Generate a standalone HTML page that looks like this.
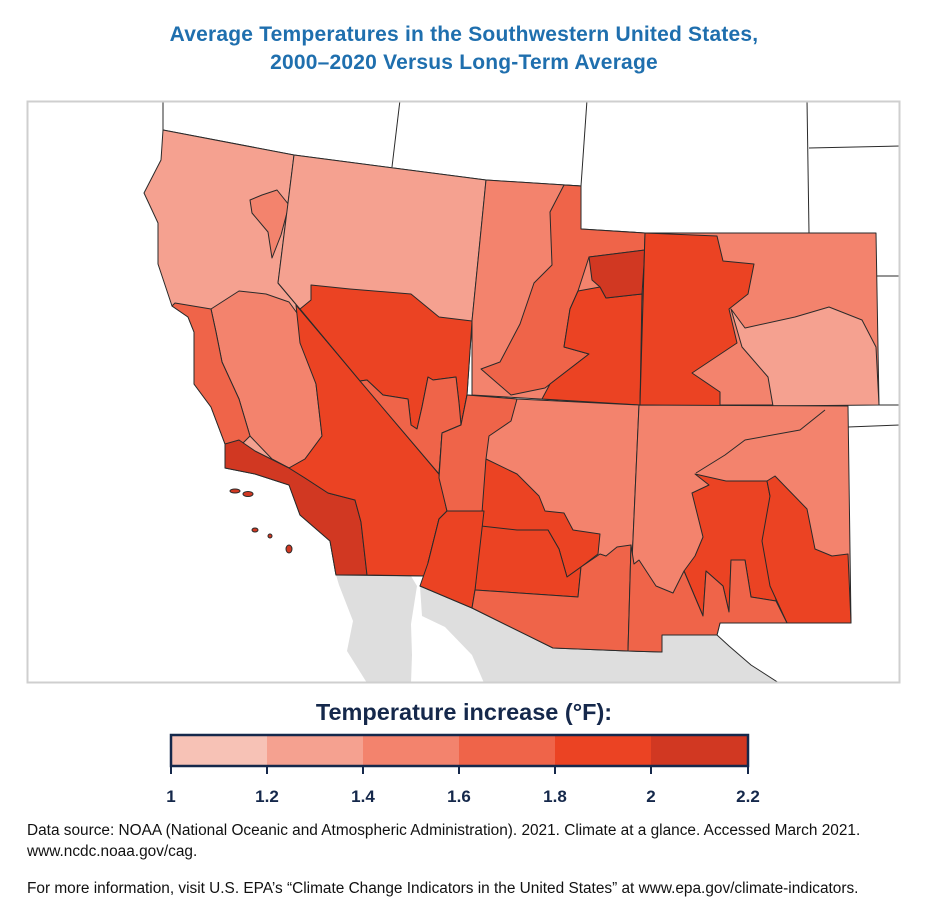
<!DOCTYPE html>
<html><head><meta charset="utf-8"><style>
body{margin:0;background:#fff;width:928px;height:921px;overflow:hidden;font-family:"Liberation Sans",sans-serif}
.t{position:absolute;left:0;width:928px;text-align:center;color:#1f6fae;font-weight:bold;font-size:21px;letter-spacing:0.2px}
.f{position:absolute;left:27px;font-size:15.4px;color:#111}
</style></head><body>
<div class="t" style="top:23px">Average Temperatures in the Southwestern United States,</div>
<div class="t" style="top:51px">2000–2020 Versus Long-Term Average</div>
<svg width="928" height="921" style="position:absolute;left:0;top:0">
<defs><clipPath id="c"><rect x="27" y="101" width="873" height="582"/></clipPath></defs>
<g clip-path="url(#c)" stroke="#2a2a2a" stroke-width="1" stroke-linejoin="round">
<polygon fill="#dedede" stroke="none" points="336,575 411,576 417,586 411,624 412,655 411,683 367,683 347,651 353,621 339,585"/>
<polygon fill="#dedede" stroke="none" points="420,586 472,608 553,648 628,651 662,652 662,635 717,635 729,646 751,665 779,683 484,683 472,655 445,627 422,616"/>
<polyline fill="none" points="717,635 729,646 751,665 779,683"/>
<polyline fill="none" points="163,100 163,130 294,155 486,180 581,186"/>
<line x1="400" y1="100" x2="392" y2="167"/>
<line x1="587" y1="100" x2="581" y2="186"/>
<line x1="807" y1="100" x2="809" y2="233"/>
<line x1="809" y1="148" x2="900" y2="146"/>
<line x1="876" y1="276" x2="900" y2="276"/>
<line x1="879" y1="405" x2="900" y2="405"/>
<line x1="848" y1="427" x2="900" y2="425"/>
<polygon fill="#f5a190" points="163,130 294,155 278,283 439,474 447,511 439,519 428,563 428,576 336,575 330,541 300,515 289,485 255,474 225,468 225,444 211,407 194,384 194,362 194,332 188,317 172,306 158,264 158,223 144,193 161,160"/>
<polygon fill="#f3836d" points="277,190 289,205 281,235 272,258 268,232 252,213 250,200 262,195"/>
<polygon fill="#f3836d" points="211,309 239,291 266,294 289,302 305,324 311,362 316,384 322,436 305,459 289,468 272,459 250,436 239,399 222,362 216,332"/>
<polygon fill="#ef6449" points="175,303 211,309 216,332 222,362 239,399 250,436 238,448 225,444 211,407 194,384 194,362 194,332 188,317 172,306"/>
<polygon fill="#d13822" points="225,444 239,440 255,451 289,468 305,478 328,493 355,500 361,522 367,575 336,575 330,541 300,515 289,485 255,474 225,468"/>
<polygon fill="#eb4323" points="296,305 300,343 316,384 322,436 305,459 289,468 305,478 328,493 355,500 361,522 367,575 428,576 428,563 439,519 447,511 439,474"/>
<g fill="#d13822"><ellipse cx="235" cy="491" rx="5" ry="2"/><ellipse cx="248" cy="494" rx="5" ry="2.5"/><ellipse cx="255" cy="530" rx="3" ry="2"/><ellipse cx="270" cy="536" rx="2" ry="2"/><ellipse cx="289" cy="549" rx="3" ry="4"/></g>
<polygon fill="#f5a190" points="294,155 486,180 472,321 467,395 461,425 442,433 439,474 278,283"/>
<polygon fill="#eb4323" points="311,285 350,289 411,294 439,317 472,321 467,395 461,425 459,403 456,377 433,380 428,377 422,407 417,429 411,425 408,399 383,395 367,380 360,381 300,309 311,300"/>
<polygon fill="#ef6449" points="367,380 383,395 408,399 411,425 417,429 422,407 428,377 433,380 456,377 459,403 461,425 442,433 439,474 360,381"/>
<polygon fill="#f3836d" points="486,180 581,186 581,229 645,233 642,405 472,395 472,321"/>
<polygon fill="#ef6449" points="564,185 581,186 581,229 645,233 645,250 589,257 578,291 570,309 564,347 589,354 545,388 511,395 481,369 500,362 520,324 534,283 552,265 550,212"/>
<polygon fill="#eb4323" points="578,291 600,287 606,298 642,294 640,405 542,399 550,384 589,354 564,347 570,309"/>
<polygon fill="#d13822" points="589,257 645,250 642,294 606,298 600,287 592,280"/>
<polygon fill="#f3836d" points="645,233 876,233 879,405 640,405"/>
<polygon fill="#eb4323" points="645,233 717,236 723,261 754,264 748,294 729,309 737,343 692,373 720,392 720,407 640,405"/>
<polygon fill="#f5a190" points="731,309 745,328 795,317 829,307 862,320 876,347 879,405 773,406 768,377 742,347"/>
<polygon fill="#f3836d" points="467,395 517,399 639,405 628,651 553,648 472,608 420,586 428,576 428,563 439,519 447,511 439,474 442,433 461,425"/>
<polygon fill="#ef6449" points="467,395 517,399 511,421 489,436 486,459 484,511 467,513 447,511 439,478 442,433 461,425"/>
<polygon fill="#eb4323" points="486,459 517,474 539,496 545,511 564,513 573,530 600,534 598,554 581,567 567,577 559,549 548,530 517,534 481,526"/>
<polygon fill="#eb4323" points="481,526 517,530 548,530 559,549 567,577 581,567 578,597 475,590"/>
<polygon fill="#eb4323" points="447,511 484,511 475,590 472,608 420,586 428,563 439,519"/>
<polygon fill="#ef6449" points="475,590 578,597 581,567 600,554 606,556 617,547 631,545 628,651 553,648 472,608"/>
<polygon fill="#f3836d" points="639,405 848,406 851,623 720,623 717,635 662,635 662,652 628,651"/>
<polygon fill="#eb4323" points="695,474 726,481 767,481 770,496 776,601 751,597 745,560 731,560 729,612 723,586 706,571 703,616 684,571 695,556 703,537 692,493 709,485"/>
<polygon fill="#eb4323" points="767,481 775,476 807,509 815,549 832,556 848,554 851,623 787,623 770,586 762,541 770,496"/>
<polygon fill="#ef6449" points="634,564 639,560 656,586 673,593 684,571 703,616 706,571 723,586 729,612 731,560 745,560 751,597 776,601 787,623 720,623 717,635 662,635 662,652 628,651 631,545"/>
<polyline fill="none" points="696,473 725,455 745,440 800,430 825,410"/>
</g>
<rect x="27.5" y="101.5" width="872" height="581" fill="none" stroke="#cfcfcf" stroke-width="2"/>
<text x="464" y="720" text-anchor="middle" font-family="Liberation Sans" font-weight="bold" font-size="23.5" fill="#15284b">Temperature increase (°F):</text>
<g stroke="none">
<rect x="171" y="735" width="96" height="31" fill="#f7c2b6"/>
<rect x="267" y="735" width="96" height="31" fill="#f5a190"/>
<rect x="363" y="735" width="96" height="31" fill="#f3836d"/>
<rect x="459" y="735" width="96" height="31" fill="#ef6449"/>
<rect x="555" y="735" width="96" height="31" fill="#eb4323"/>
<rect x="651" y="735" width="97" height="31" fill="#d13822"/>
</g>
<rect x="171" y="735" width="577" height="31" fill="none" stroke="#15284b" stroke-width="2.5"/>
<g stroke="#15284b" stroke-width="2"><line x1="171" y1="766" x2="171" y2="774"/><line x1="267" y1="766" x2="267" y2="774"/><line x1="363" y1="766" x2="363" y2="774"/><line x1="459" y1="766" x2="459" y2="774"/><line x1="555" y1="766" x2="555" y2="774"/><line x1="651" y1="766" x2="651" y2="774"/><line x1="748" y1="766" x2="748" y2="774"/></g>
<g font-family="Liberation Sans" font-weight="bold" font-size="17" fill="#15284b" text-anchor="middle">
<text x="171" y="802">1</text><text x="267" y="802">1.2</text><text x="363" y="802">1.4</text><text x="459" y="802">1.6</text><text x="555" y="802">1.8</text><text x="651" y="802">2</text><text x="748" y="802">2.2</text></g>
</svg>
<div class="f" style="top:822px">Data source: NOAA (National Oceanic and Atmospheric Administration). 2021. Climate at a glance. Accessed March 2021.</div>
<div class="f" style="top:843px">www.ncdc.noaa.gov/cag.</div>
<div class="f" style="top:880px">For more information, visit U.S. EPA’s “Climate Change Indicators in the United States” at www.epa.gov/climate-indicators.</div>
</body></html>
